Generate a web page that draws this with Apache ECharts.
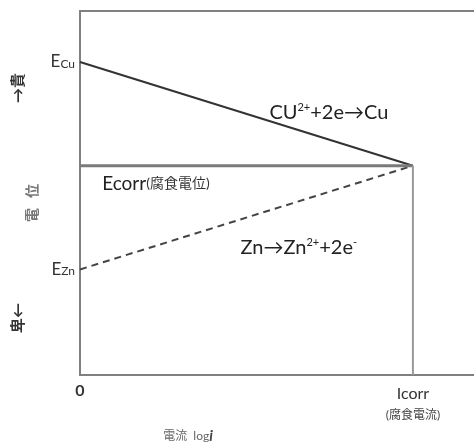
<!DOCTYPE html>
<html>
<head>
<meta charset="utf-8">
<script src="https://cdn.jsdelivr.net/npm/echarts@6/dist/echarts.min.js"></script>
<style>
  html, body { margin: 0; padding: 0; background: #fff; overflow: hidden; }
  #main { width: 474px; height: 443px; }
</style>
</head>
<body>
<div id="main"></div>
<script>
// 電位・電流 (模式図)
var xTicks = [0, 82];
var xTickLabels = ['{z|0}', '{a|Icorr}\n{b|(腐食電流)}'];
var yTicks = [29, 86];
var yTickLabels = ['{e|E}{s|Zn}', '{e|E}{s|Cu}'];

var eCu = 86, eZn = 29, eCorr = 57.5, iCorr = 82;
var cuLine = [[0, eCu], [iCorr, eCorr]];
var znLine = [[0, eZn], [iCorr, eCorr]];
var corrLine = [[0, eCorr], [iCorr, eCorr]];
var icorrLine = [[iCorr, 0], [iCorr, eCorr]];

var notes = [
  { value: [61.3, 72], text: 'CU{sup|2+}+2e→Cu' },
  { value: [18.7, 52.5], text: '{m|Ecorr}{cj|(腐食電位)}' },
  { value: [53.9, 35], text: 'Zn→Zn{sup|2+}+2e{sup|-}' }
];

var myChart = echarts.init(document.getElementById('main'));

var font = 'Lato, "Noto Sans CJK JP", sans-serif';

option = {
  animation: false,
  grid: {
    left: 80, right: -12, top: 11, bottom: 68,
    outerBoundsMode: 'none',
    show: true, borderColor: '#808080', borderWidth: 2, backgroundColor: '#fff'
  },
  xAxis: {
    type: 'value', min: 0, max: 100,
    splitLine: { show: false },
    axisTick: { show: false },
    axisLine: { lineStyle: { color: '#808080', width: 2 } },
    axisLabel: {
      customValues: xTicks,
      formatter: function (v) { return xTickLabels[xTicks.indexOf(v)]; },
      margin: 8,
      rich: {
        z: { fontSize: 16, fontWeight: 'bold', color: '#333', fontFamily: font },
        a: { fontSize: 16, color: '#333', fontFamily: font, lineHeight: 22 },
        b: { fontSize: 12, color: '#444', fontFamily: font, lineHeight: 20 }
      }
    },
    name: '電流  log{i|i}',
    nameLocation: 'middle', nameGap: 54,
    nameTextStyle: {
      color: '#666', fontFamily: font, fontSize: 12, padding: [0, 190, 0, 0],
      rich: { i: { fontStyle: 'italic', fontWeight: 'bold', fontSize: 15, color: '#444', fontFamily: font } }
    }
  },
  yAxis: {
    type: 'value', min: 0, max: 100,
    splitLine: { show: false },
    axisTick: { show: false },
    axisLine: { lineStyle: { color: '#808080', width: 2 } },
    axisLabel: {
      customValues: yTicks,
      formatter: function (v) { return yTickLabels[yTicks.indexOf(v)]; },
      margin: 5,
      rich: {
        e: { fontSize: 17, color: '#333', fontFamily: font },
        s: { fontSize: 12, color: '#333', fontFamily: font, padding: [4, 0, 0, 0] }
      }
    },
    name: '{k|卑←}{g|電   位}{k|→貴}',
    nameLocation: 'middle', nameRotate: 90, nameGap: 13,
    nameTextStyle: {
      padding: [0, 20, 0, 0],
      rich: {
        k: { color: '#333', fontFamily: font, fontSize: 15, fontWeight: 'bold', padding: [0, 0, 30, 0] },
        g: { color: '#777', fontFamily: font, fontSize: 14, fontWeight: 'bold', width: 200, align: 'center' }
      }
    }
  },
  series: [
    {
      type: 'line', data: cuLine, symbol: 'none',
      lineStyle: { color: '#333', width: 2 }
    },
    {
      type: 'line', data: znLine, symbol: 'none',
      lineStyle: { color: '#444', width: 2, type: [7, 5] }
    },
    {
      type: 'line', data: corrLine, symbol: 'none',
      lineStyle: { color: '#7a7a7a', width: 3 }
    },
    {
      type: 'line', data: icorrLine, symbol: 'none',
      lineStyle: { color: '#999', width: 2 }
    },
    {
      type: 'scatter', symbolSize: 0, silent: true,
      itemStyle: { opacity: 1 },
      data: notes.map(function (n) { return { value: n.value, text: n.text }; }),
      label: {
        show: true, position: 'inside',
        formatter: function (p) { return p.data.text; },
        color: '#222', fontFamily: font, fontSize: 20,
        rich: {
          sup: { fontSize: 11, color: '#222', fontFamily: font, padding: [0, 0, 10, 0] },
          m: { fontSize: 19, color: '#222', fontFamily: font },
          cj: { fontSize: 14, color: '#333', fontFamily: font }
        }
      }
    }
  ]
};

myChart.setOption(option);
</script>
</body>
</html>
